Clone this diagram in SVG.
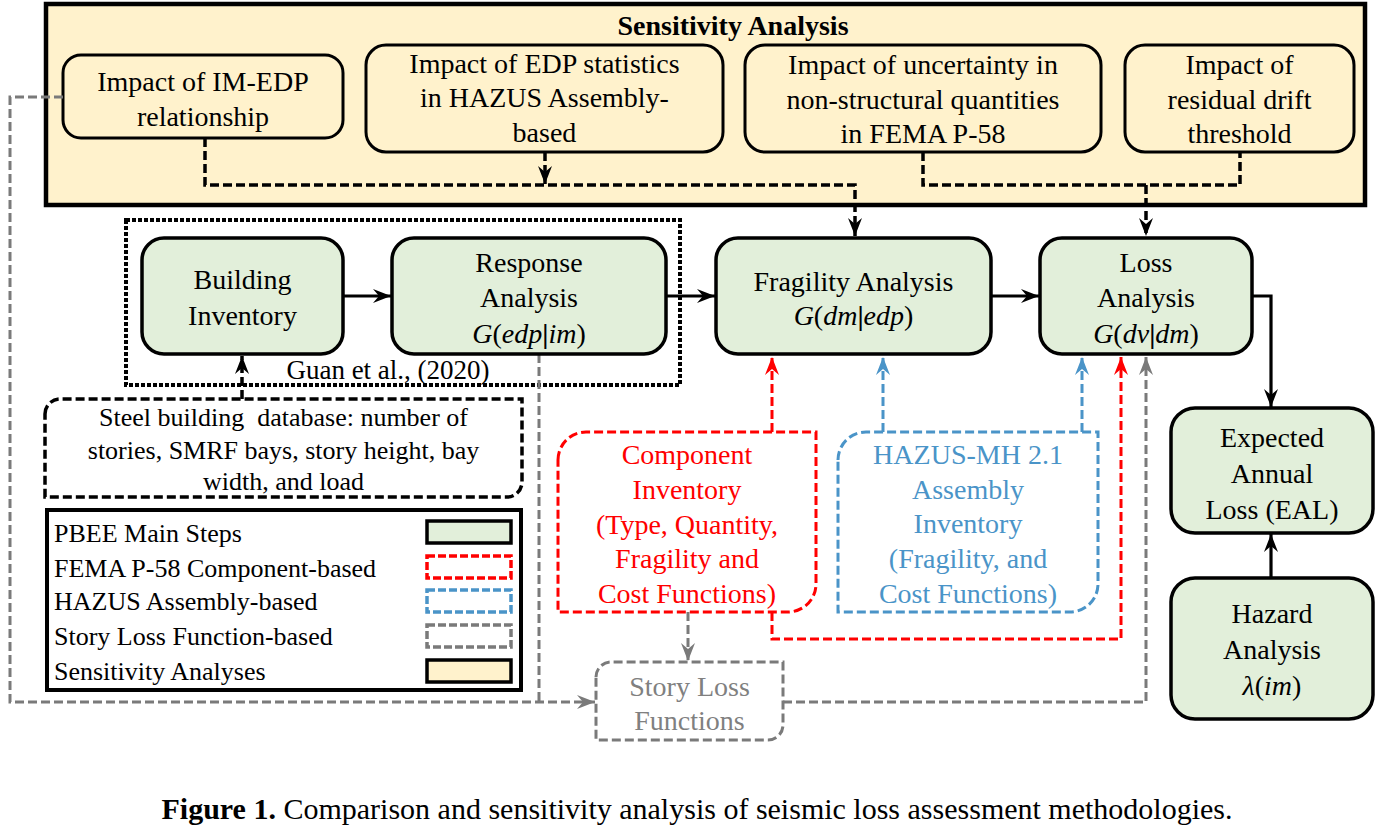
<svg xmlns="http://www.w3.org/2000/svg" width="1378" height="833" viewBox="0 0 1378 833" font-family="Liberation Serif, Times New Roman, DejaVu Serif, serif">
<defs>
<style>
text{font-family:'Liberation Serif','Times New Roman','DejaVu Serif',serif;font-size:28px;fill:#000;text-anchor:middle}
.sm{font-size:26px}
.lg{font-size:26px;text-anchor:start}
.red{fill:#ff0000}
.blue{fill:#4a94c8}
.gray{fill:#808080}
.it{font-style:italic}
.main{fill:#e2efda;stroke:#000;stroke-width:3.5}
.sub{fill:#fff2cc;stroke:#000;stroke-width:3}
.bk{fill:none;stroke:#000;stroke-width:3.2}
.bkd{fill:none;stroke:#000;stroke-width:3.5;stroke-dasharray:9,4}
.rd{fill:none;stroke:#ff0000;stroke-width:3;stroke-dasharray:9,4}
.bd{fill:none;stroke:#4a94c8;stroke-width:3;stroke-dasharray:9,4}
.gd{fill:none;stroke:#7a7a7a;stroke-width:3;stroke-dasharray:9,4}
</style>
<marker id="mk" viewBox="0 0 18 14" refX="18" refY="7" markerWidth="18" markerHeight="14" orient="auto" markerUnits="userSpaceOnUse"><path d="M0,0 L18,7 L0,14 L6,7 z" fill="#000"/></marker>
<marker id="mr" viewBox="0 0 18 14" refX="18" refY="7" markerWidth="18" markerHeight="14" orient="auto" markerUnits="userSpaceOnUse"><path d="M0,0 L18,7 L0,14 L6,7 z" fill="#ff0000"/></marker>
<marker id="mb" viewBox="0 0 18 14" refX="18" refY="7" markerWidth="18" markerHeight="14" orient="auto" markerUnits="userSpaceOnUse"><path d="M0,0 L18,7 L0,14 L6,7 z" fill="#4a94c8"/></marker>
<marker id="mg" viewBox="0 0 18 14" refX="18" refY="7" markerWidth="18" markerHeight="14" orient="auto" markerUnits="userSpaceOnUse"><path d="M0,0 L18,7 L0,14 L6,7 z" fill="#7a7a7a"/></marker>
</defs>
<rect width="1378" height="833" fill="#fff"/>

<g id="sensitivity">
<rect x="46" y="4" width="1319" height="201" fill="#fff2cc" stroke="#000" stroke-width="4.5"/>
<text x="733" y="35" font-weight="bold">Sensitivity Analysis</text>
</g>
<g id="imp-im-edp">
<rect class="sub" x="63" y="55" width="280" height="83" rx="18"/>
<text x="203" y="91">Impact of IM-EDP</text>
<text x="203" y="126">relationship</text>
</g>
<g id="imp-edp-stats">
<rect class="sub" x="366" y="45" width="357" height="107" rx="20"/>
<text x="544.5" y="73">Impact of EDP statistics</text>
<text x="544.5" y="107">in HAZUS Assembly-</text>
<text x="544.5" y="142">based</text>
</g>
<g id="imp-uncert">
<rect class="sub" x="745" y="45" width="356" height="107" rx="20"/>
<text x="923" y="74">Impact of uncertainty in</text>
<text x="923" y="109">non-structural quantities</text>
<text x="923" y="143">in FEMA P-58</text>
</g>
<g id="imp-residual">
<rect class="sub" x="1125" y="45" width="229" height="107" rx="20"/>
<text x="1239.5" y="74">Impact of</text>
<text x="1239.5" y="109">residual drift</text>
<text x="1239.5" y="143">threshold</text>
</g>

<g id="guan">
<rect x="126" y="220" width="554" height="165" fill="none" stroke="#000" stroke-width="4" stroke-dasharray="4,2"/>
<text x="388" y="379" style="font-size:27px">Guan et al., (2020)</text>
</g>

<g id="connectors">
<path class="bkd" d="M205,138 V185 H855 V236" marker-end="url(#mk)"/>
<path class="bkd" d="M545,152 V184" marker-end="url(#mk)"/>
<path class="bkd" d="M923,152 V185 H1240 V152"/>
<path class="bkd" d="M1146,185 V236" marker-end="url(#mk)"/>
<path class="bk" d="M343,296 H391" marker-end="url(#mk)"/>
<path class="bk" d="M666,296 H715" marker-end="url(#mk)"/>
<path class="bk" d="M991,296 H1039" marker-end="url(#mk)"/>
<path class="bk" d="M1252,296 H1271 V407" marker-end="url(#mk)"/>
<path class="bk" d="M1271,578 V534" marker-end="url(#mk)"/>
<path class="bkd" d="M242,399 V356" marker-end="url(#mk)"/>
<path class="rd" d="M772,432 V357" marker-end="url(#mr)"/>
<path class="rd" d="M772,612 V639 H1121 V357" marker-end="url(#mr)"/>
<path class="bd" d="M883,432 V357" marker-end="url(#mb)"/>
<path class="bd" d="M1082,432 V357" marker-end="url(#mb)"/>
<path class="gd" d="M63,97 H10 V702 H595" marker-end="url(#mg)"/>
<path class="gd" d="M539,354 V702"/>
<path class="gd" d="M688,612 V661" marker-end="url(#mg)"/>
<path class="gd" d="M783,702 H1146 V357" marker-end="url(#mg)"/>
</g>

<g id="building">
<rect class="main" x="142" y="238" width="201" height="116" rx="22"/>
<text x="242.5" y="289">Building</text>
<text x="242.5" y="325">Inventory</text>
</g>
<g id="response">
<rect class="main" x="392" y="238" width="274" height="116" rx="22"/>
<text x="529" y="272">Response</text>
<text x="529" y="307">Analysis</text>
<text x="529" y="343"><tspan class="it">G</tspan>(<tspan class="it">edp</tspan><tspan font-weight="bold">|</tspan><tspan class="it">im</tspan>)</text>
</g>
<g id="fragility">
<rect class="main" x="716" y="238" width="275" height="116" rx="22"/>
<text x="853.5" y="291">Fragility Analysis</text>
<text x="853.5" y="325"><tspan class="it">G</tspan>(<tspan class="it">dm</tspan><tspan font-weight="bold">|</tspan><tspan class="it">edp</tspan>)</text>
</g>
<g id="loss">
<rect class="main" x="1040" y="238" width="212" height="116" rx="22"/>
<text x="1146" y="272">Loss</text>
<text x="1146" y="307">Analysis</text>
<text x="1146" y="343"><tspan class="it">G</tspan>(<tspan class="it">dv</tspan><tspan font-weight="bold">|</tspan><tspan class="it">dm</tspan>)</text>
</g>
<g id="eal">
<rect class="main" x="1171" y="408" width="202" height="125" rx="24"/>
<text x="1272" y="447">Expected</text>
<text x="1272" y="483">Annual</text>
<text x="1272" y="519">Loss (EAL)</text>
</g>
<g id="hazard">
<rect class="main" x="1171" y="578" width="202" height="141" rx="24"/>
<text x="1272" y="623">Hazard</text>
<text x="1272" y="659">Analysis</text>
<text x="1272" y="695"><tspan class="it">λ</tspan>(<tspan class="it">im</tspan>)</text>
</g>

<g id="steel-db">
<path class="bkd" d="M45,414 A15,15 0 0 1 60,399 H522 V482 A15,15 0 0 1 507,497 H45 Z"/>
<text class="sm" x="283.5" y="426" xml:space="preserve">Steel building  database: number of</text>
<text class="sm" x="283.5" y="459">stories, SMRF bays, story height, bay</text>
<text class="sm" x="283.5" y="490">width, and load</text>
</g>

<g id="component">
<path class="rd" d="M558,460 A28,28 0 0 1 586,432 H816 V584 A28,28 0 0 1 788,612 H558 Z"/>
<text class="red" x="687" y="464">Component</text>
<text class="red" x="687" y="499">Inventory</text>
<text class="red" x="687" y="534">(Type, Quantity,</text>
<text class="red" x="687" y="568">Fragility and</text>
<text class="red" x="687" y="603">Cost Functions)</text>
</g>

<g id="hazus">
<path class="bd" d="M838,460 A28,28 0 0 1 866,432 H1098 V584 A28,28 0 0 1 1070,612 H838 Z"/>
<text class="blue" x="968" y="464">HAZUS-MH 2.1</text>
<text class="blue" x="968" y="499">Assembly</text>
<text class="blue" x="968" y="533">Inventory</text>
<text class="blue" x="968" y="568">(Fragility, and</text>
<text class="blue" x="968" y="603">Cost Functions)</text>
</g>

<g id="story-loss">
<path class="gd" d="M596,677 A15,15 0 0 1 611,662 H783 V725 A15,15 0 0 1 768,740 H596 Z"/>
<text class="gray" x="689.5" y="696">Story Loss</text>
<text class="gray" x="689.5" y="730">Functions</text>
</g>

<g id="legend">
<rect x="47" y="510" width="474" height="180" fill="#fff" stroke="#000" stroke-width="4"/>
<text class="lg" x="54" y="542">PBEE Main Steps</text>
<text class="lg" x="54" y="577">FEMA P-58 Component-based</text>
<text class="lg" x="54" y="610">HAZUS Assembly-based</text>
<text class="lg" x="54" y="645">Story Loss Function-based</text>
<text class="lg" x="54" y="680">Sensitivity Analyses</text>
<rect x="427" y="521" width="84" height="22" fill="#e2efda" stroke="#000" stroke-width="3.5"/>
<rect x="427" y="556" width="84" height="22" fill="none" stroke="#ff0000" stroke-width="3.5" stroke-dasharray="8,3"/>
<rect x="427" y="590" width="84" height="22" fill="none" stroke="#4a94c8" stroke-width="3.5" stroke-dasharray="8,3"/>
<rect x="427" y="625" width="84" height="22" fill="none" stroke="#7a7a7a" stroke-width="3.5" stroke-dasharray="8,3"/>
<rect x="427" y="660" width="84" height="22" fill="#fff2cc" stroke="#000" stroke-width="3.5"/>
</g>

<text x="697" y="819" style="font-size:30px"><tspan font-weight="bold">Figure 1.</tspan> Comparison and sensitivity analysis of seismic loss assessment methodologies.</text>
</svg>
